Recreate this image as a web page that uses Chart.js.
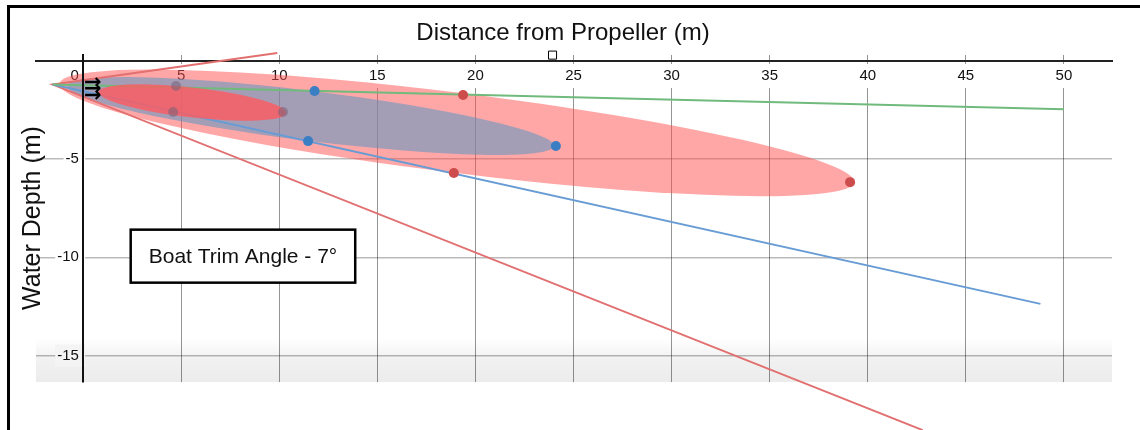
<!DOCTYPE html>
<html>
<head>
<meta charset="utf-8">
<script src="https://cdn.jsdelivr.net/npm/chart.js@4.4.1/dist/chart.umd.min.js"></script>
<style>
  html, body { margin: 0; padding: 0; background: #fff; }
  #wrap { position: relative; width: 1140px; height: 430px; overflow: hidden; }
  #frame { position: absolute; left: 7px; top: 5px; width: 1200px; height: 500px;
           border-left: 3px solid #000; border-top: 3px solid #000; pointer-events: none; }
  canvas { position: absolute; left: 0; top: 0; }
</style>
</head>
<body>
<div id="wrap">
  <canvas id="chart" width="1140" height="430"></canvas>
  <div id="frame"></div>
</div>
<script>
// axes
const xTickValues = [0, 5, 10, 15, 20, 25, 30, 35, 40, 45, 50];
const xTickLabels = ['0', '5', '10', '15', '20', '25', '30', '35', '40', '45', '50'];
const yTickValues = [-5, -10, -15];
const yTickLabels = ['-5', '-10', '-15'];

// rays from the propeller (m)
const greenRayX = [-1.55, 50];
const greenRayY = [-1.2, -2.46];
const blueRayX = [-1.55, 48.8];
const blueRayY = [-1.2, -12.37];
const redRayX = [9.9, -1.55, 42.8];
const redRayY = [0.41, -1.2, -18.8];

// marker points on each plume
const nearDotX = [4.74, 4.59, 10.19];
const nearDotY = [-1.27, -2.6, -2.6];
const midDotX = [11.8, 11.47, 24.1];
const midDotY = [-1.53, -4.08, -4.33];
const farDotX = [19.37, 18.9, 39.1];
const farDotY = [-1.73, -5.7, -6.17];

// plumes: tail point, tip point, half width (m)
const plumeTailX = [-1.2, -0.8, 0.8];
const plumeTailY = [-1.15, -1.27, -1.58];
const plumeTipX = [39.3, 24.0, 10.35];
const plumeTipY = [-6.17, -4.33, -2.65];
const plumeHalfWidth = [2.04, 1.27, 0.76];

const propeller = [0.5, -1.43];
const handle = [23.93, 0.3];
const note = 'Boat Trim Angle - 7°';
const notePos = [8.15, -9.94];

const plumeFill = ['rgba(255,80,80,0.5)', 'rgba(90,150,195,0.55)', 'rgba(255,90,95,0.8)'];
const FONT = '"Liberation Sans", Arial, Helvetica, sans-serif';

function pts(xs, ys) {
  return xs.map((x, i) => ({ x: x, y: ys[i] }));
}

function drawPlume(chart, i) {
  const { ctx, chartArea, scales } = chart;
  const x1 = scales.x.getPixelForValue(plumeTailX[i]);
  const y1 = scales.y.getPixelForValue(plumeTailY[i]);
  const x2 = scales.x.getPixelForValue(plumeTipX[i]);
  const y2 = scales.y.getPixelForValue(plumeTipY[i]);
  const rx = Math.hypot(x2 - x1, y2 - y1) / 2;
  const ry = Math.abs(scales.y.getPixelForValue(0) - scales.y.getPixelForValue(plumeHalfWidth[i]));
  ctx.save();
  ctx.beginPath();
  ctx.rect(chartArea.left, chartArea.top, chartArea.right - chartArea.left, chartArea.bottom - chartArea.top);
  ctx.clip();
  ctx.beginPath();
  ctx.ellipse((x1 + x2) / 2, (y1 + y2) / 2, rx, ry, Math.atan2(y2 - y1, x2 - x1), 0, Math.PI * 2);
  ctx.fillStyle = plumeFill[i];
  ctx.fill();
  ctx.restore();
}

let nearDone = false;
const plumes = {
  id: 'plumes',
  beforeDraw(chart) {
    // grey fade at the bottom of the plot
    const { ctx, chartArea } = chart;
    const top = chartArea.bottom - 44;
    const g = ctx.createLinearGradient(0, top, 0, chartArea.bottom);
    g.addColorStop(0, 'rgba(236,236,236,0)');
    g.addColorStop(0.5, 'rgba(236,236,236,0.75)');
    g.addColorStop(1, 'rgba(236,236,236,1)');
    ctx.fillStyle = g;
    ctx.fillRect(chartArea.left, top, chartArea.right - chartArea.left, 44);
  },
  beforeDatasetsDraw(chart) {
    nearDone = false;
    drawPlume(chart, 0);
    drawPlume(chart, 1);
  },
  beforeDatasetDraw(chart, args) {
    if (!nearDone && chart.data.datasets[args.index].markers) {
      drawPlume(chart, 2);
      nearDone = true;
    }
  },
  afterDatasetsDraw(chart) {
    const { ctx, scales } = chart;
    ctx.save();
    ctx.fillStyle = '#000';
    ctx.font = 'bold 21px "DejaVu Sans"';
    ctx.textAlign = 'center';
    ctx.textBaseline = 'middle';
    ctx.fillText('\u21F6', scales.x.getPixelForValue(propeller[0]), scales.y.getPixelForValue(propeller[1]));
    ctx.restore();
  },
  afterDraw(chart) {
    const { ctx, scales } = chart;
    ctx.save();
    // titles
    ctx.fillStyle = '#111';
    ctx.font = '24px ' + FONT;
    ctx.textAlign = 'center';
    ctx.textBaseline = 'alphabetic';
    ctx.fillText('Distance from Propeller (m)', 563, 40);
    ctx.font = '25px ' + FONT;
    ctx.translate(33, 218);
    ctx.rotate(-Math.PI / 2);
    ctx.textBaseline = 'middle';
    ctx.fillText('Water Depth (m)', 0, 0);
    ctx.restore();

    // note box
    ctx.save();
    ctx.font = '21px ' + FONT;
    const w = ctx.measureText(note).width + 36;
    const h = 53;
    const cx = scales.x.getPixelForValue(notePos[0]);
    const cy = scales.y.getPixelForValue(notePos[1]);
    ctx.fillStyle = '#fff';
    ctx.fillRect(cx - w / 2, cy - h / 2, w, h);
    ctx.lineWidth = 2.5;
    ctx.strokeStyle = '#000';
    ctx.strokeRect(cx - w / 2, cy - h / 2, w, h);
    ctx.fillStyle = '#111';
    ctx.textAlign = 'center';
    ctx.textBaseline = 'middle';
    ctx.fillText(note, cx, cy + 1);
    ctx.restore();
  }
};

const ctx = document.getElementById('chart').getContext('2d');

new Chart(ctx, {
  type: 'scatter',
  data: {
    datasets: [{
      label: 'Green ray',
      data: pts(greenRayX, greenRayY),
      showLine: true,
      borderColor: 'rgb(112,186,124)',
      borderWidth: 2,
      pointRadius: 0,
      order: 3
    }, {
      label: 'Blue ray',
      data: pts(blueRayX, blueRayY),
      showLine: true,
      borderColor: 'rgb(104,156,212)',
      borderWidth: 2,
      pointRadius: 0,
      order: 3
    }, {
      label: 'Red rays',
      data: pts(redRayX, redRayY),
      showLine: true,
      borderColor: 'rgb(226,112,112)',
      borderWidth: 2,
      pointRadius: 0,
      clip: false,
      order: 3
    }, {
      label: 'Near plume',
      markers: true,
      data: pts(nearDotX, nearDotY),
      pointRadius: 5,
      pointBackgroundColor: 'rgba(120,96,118,0.55)',
      pointBorderWidth: 0,
      order: 1
    }, {
      label: 'Mid plume',
      markers: true,
      data: pts(midDotX, midDotY),
      pointRadius: 5,
      pointBackgroundColor: 'rgb(58,126,195)',
      pointBorderWidth: 0,
      order: 1
    }, {
      label: 'Far plume',
      markers: true,
      data: pts(farDotX, farDotY),
      pointRadius: 5,
      pointBackgroundColor: 'rgb(205,76,76)',
      pointBorderWidth: 0,
      order: 1
    }, {
      label: 'Handle',
      data: [{ x: handle[0], y: handle[1] }],
      pointStyle: 'rect',
      pointRadius: 5.7,
      pointBackgroundColor: '#fff',
      pointBorderColor: '#000',
      pointBorderWidth: 1,
      clip: false,
      order: 0
    }]
  },
  options: {
    responsive: false,
    animation: false,
    events: [],
    layout: { padding: { left: 36, top: 55, right: 28, bottom: 48 } },
    plugins: {
      legend: { display: false },
      tooltip: { enabled: false }
    },
    scales: {
      x: {
        type: 'linear',
        position: { y: 0 },
        min: -2.4,
        max: 52.45,
        afterBuildTicks: (scale) => { scale.ticks = xTickValues.map(v => ({ value: v })); },
        grid: { color: 'rgba(0,0,0,0.42)', lineWidth: 1, drawTicks: false },
        border: { color: '#222', width: 2 },
        ticks: {
          padding: 6,
          color: '#111',
          font: { size: 15, family: FONT },
          maxRotation: 0,
          showLabelBackdrop: true,
          backdropColor: '#fff',
          backdropPadding: { x: 2, y: 3 },
          callback: (value, index) => index === 0 ? xTickLabels[0] + '    ' : xTickLabels[index]
        }
      },
      y: {
        type: 'linear',
        position: { x: 0 },
        min: -16.35,
        max: 0.306,
        afterBuildTicks: (scale) => { scale.ticks = yTickValues.map(v => ({ value: v })); },
        grid: { color: 'rgba(0,0,0,0.27)', lineWidth: 1.5, drawTicks: false },
        border: { color: '#111', width: 2, z: 1 },
        ticks: {
          color: '#111',
          font: { size: 15, family: FONT },
          showLabelBackdrop: true,
          // label on the bottom fade gets a matching grey backing
          backdropColor: (c) => c.index === yTickValues.length - 1 ? 'rgb(244,244,244)' : '#fff',
          backdropPadding: { x: 2, y: 2 },
          callback: (value, index) => yTickLabels[index] + ' '
        }
      }
    }
  },
  plugins: [plumes]
});
</script>
</body>
</html>
